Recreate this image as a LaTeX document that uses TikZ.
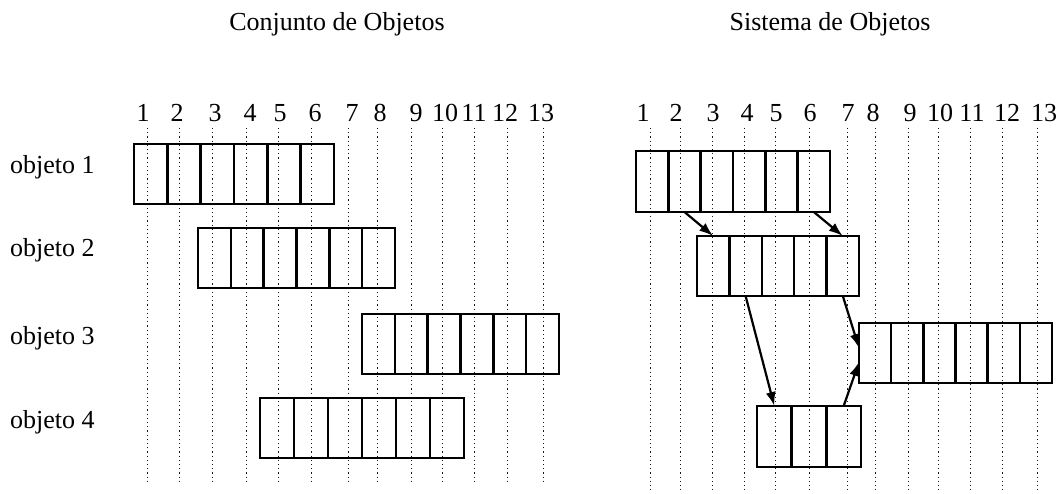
\documentclass[tikz,border=0pt]{standalone}
\usepackage{fontspec}
\setmainfont{Liberation Serif}
\usetikzlibrary{arrows.meta}
\newcommand\objbox[6]{% name, x-left, x-right, cells, y-top, y-bottom
  \pgfmathsetmacro\cw{(#3-#2)/#4}%
  \pgfmathsetmacro\ch{#6-#5}%
  \foreach \i in {1,...,#4}{%
    \node[cell, minimum width=\cw pt, minimum height=\ch pt] (#1c\i) at ({#2+(\i-0.5)*\cw},{(#5+#6)/2}) {};
  }%
}
\begin{document}
\begin{tikzpicture}[x=1pt,y=-1pt,
  cell/.style={draw, line width=2.4pt, inner sep=0pt, outer sep=0pt},
  guide/.style={line width=1pt, dash pattern=on 1.2pt off 3pt, black!90},
  ttl/.style={font=\fontsize{26}{30}\selectfont, anchor=base, inner sep=0pt},
  lbl/.style={font=\fontsize{26}{30}\selectfont, anchor=base west, inner sep=0pt},
  num/.style={font=\fontsize{26}{30}\selectfont, anchor=base, inner sep=0pt},
  flow/.style={line width=2.2pt, -{Latex[length=14pt,width=10pt]}}]
\useasboundingbox (0,0) rectangle (1062,494);

% titles
\node[ttl] (t1) at (337,31) {Conjunto de Objetos};
\node[ttl] (t2) at (830,31) {Sistema de Objetos};

% row labels
\node[lbl] (o1) at (10,174) {objeto 1};
\node[lbl] (o2) at (10,257) {objeto 2};
\node[lbl] (o3) at (10,344) {objeto 3};
\node[lbl] (o4) at (10,428) {objeto 4};

% column numbers
\foreach \x [count=\i] in {143,177,215,250,280,315,352,380,416,445,474,505,541}
  \node[num] (ln\i) at (\x,122) {\i};
\foreach \x [count=\i] in {643,676,713,747,776,810,848,873,910,940,972,1007,1044}
  \node[num] (rn\i) at (\x,122) {\i};

% dotted guide lines
\foreach \x in {147,179,212,246,278,311,348,377,411,442,474,507,543}
  \draw[guide] (\x,128) -- (\x,482);
\foreach \x in {650,680,712,744,775,809,847,875,908,938,970,1002,1037}
  \draw[guide] (\x,128) -- (\x,490);

% left: Conjunto de Objetos
\objbox{La}{134}{334}{6}{144}{204}
\objbox{Lb}{198}{395}{6}{228}{288}
\objbox{Lc}{362}{559}{6}{314}{374}
\objbox{Ld}{260}{464}{6}{398}{458}

% right: Sistema de Objetos
\objbox{Ra}{636}{830}{6}{151}{212}
\objbox{Rb}{697}{859}{5}{236}{296}
\objbox{Rc}{859}{1052}{6}{323}{383}
\objbox{Rd}{757}{861}{3}{406}{467}

% connectors
\draw[flow] (Rac2.south) -- (Rbc1.north);
\draw[flow] (Rac6.south) -- (Rbc5.north);
\draw[flow] (Rbc2.south) -- (Rdc1.north);
\draw[flow] (Rbc5.south) -- ([yshift=5pt]Rcc1.west);
\draw[flow] (Rdc3.north) -- ([yshift=-9pt]Rcc1.west);
\end{tikzpicture}
\end{document}
